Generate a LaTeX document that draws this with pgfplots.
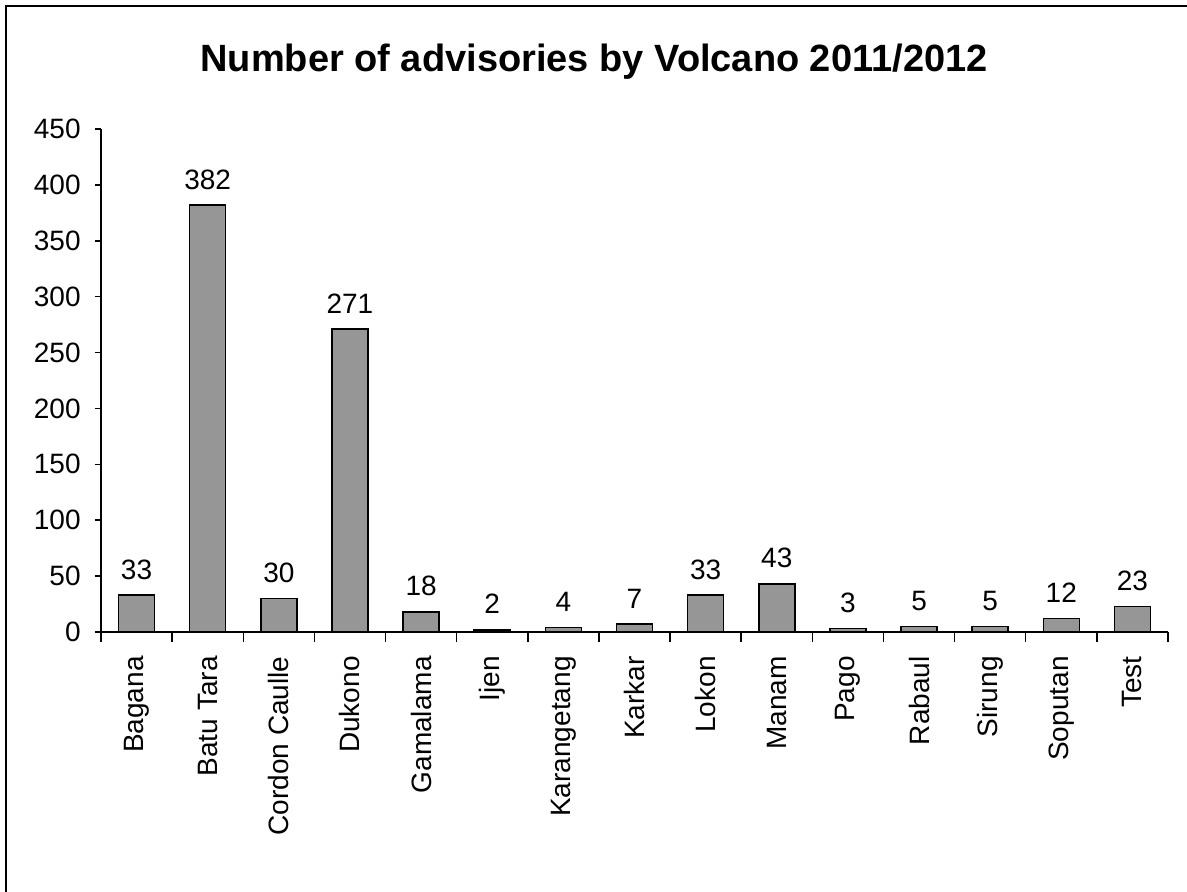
\documentclass[border=0pt]{standalone}
\usepackage{pgfplots}
\pgfplotsset{compat=1.18}
\usepackage{fontspec}
\setmainfont{Liberation Sans}
\definecolor{bargray}{RGB}{150,150,150}
\begin{document}
\begin{tikzpicture}
\useasboundingbox (-50.5pt,-130pt) rectangle (543pt,316pt);
\draw[line width=1.2pt] (-47.5pt,-131pt) -- (-47.5pt,313pt) -- (544pt,313pt);
\begin{axis}[
  scale only axis,
  width=533.5pt, height=251.5pt,
  at={(0,0)}, anchor=south west,
  xmin=-0.5, xmax=14.5,
  ymin=0, ymax=450,
  axis x line*=bottom, axis y line*=left,
  axis line style={line width=0.75pt},
  xtick={0,...,14},
  xticklabels={Bagana,Batu Tara,Cordon Caulle,Dukono,Gamalama,Ijen,Karangetang,Karkar,Lokon,Manam,Pago,Rabaul,Sirung,Soputan,Test},
  minor xtick={-0.5,0.5,...,14.5},
  major x tick style={draw=none},
  minor x tick style={black, line width=0.75pt},
  ytick={0,50,...,450},
  ytick style={black, line width=0.75pt},
  tick align=outside,
  major tick length=3pt,
  minor tick length=5pt,
  /pgf/number format/assume math mode=true,
  tick label style={font=\fontsize{14}{16}\selectfont},
  xticklabel style={rotate=90, anchor=east, inner sep=0pt, xshift=-9pt},
  yticklabel style={anchor=east, inner sep=0pt, xshift=-7pt},
  ybar, bar width=18pt,
  nodes near coords,
  nodes near coords style={font=\fontsize{14}{16}\selectfont, anchor=base, inner sep=0pt, yshift=8pt},
  clip=false,
]
\addplot[fill=bargray, draw=black, line width=0.75pt] coordinates {
(0,33) (1,382) (2,30) (3,271) (4,18) (5,2) (6,4) (7,7) (8,33) (9,43) (10,3) (11,5) (12,5) (13,12) (14,23)
};
\end{axis}
\node[font=\fontsize{19}{22}\selectfont\bfseries] at (246.5pt,285pt) {Number of advisories by Volcano 2011/2012};
\end{tikzpicture}
\end{document}
